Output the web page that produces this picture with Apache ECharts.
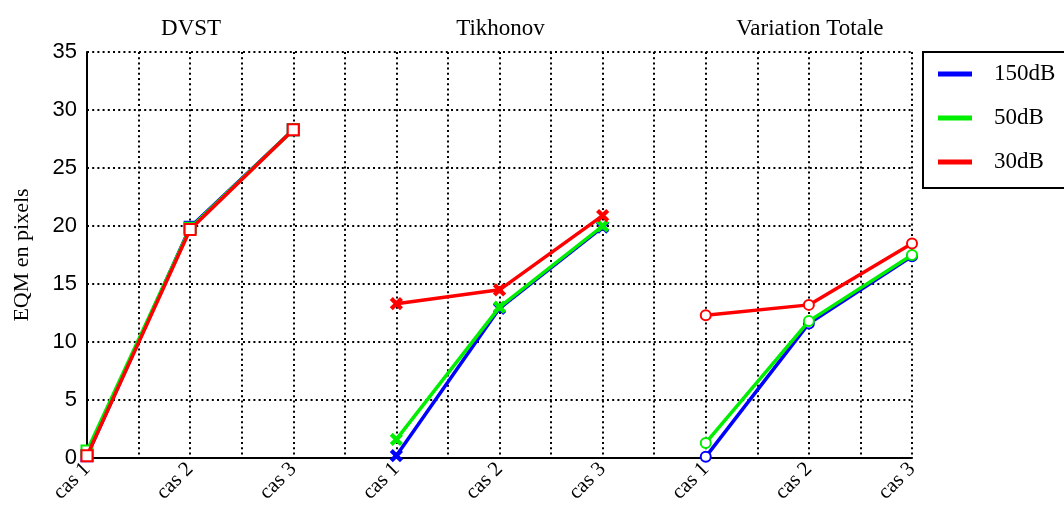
<!DOCTYPE html>
<html>
<head>
<meta charset="utf-8">
<script src="https://cdn.jsdelivr.net/npm/echarts@6/dist/echarts.min.js"></script>
<style>
    html, body { margin: 0; padding: 0; background: #fff; }
    #chart { width: 1064px; height: 509px; }
</style>
</head>
<body>
<div id="chart"></div>
<script>
// 横轴标签、方法名、噪声水平
var cases = ['cas 1', 'cas 2', 'cas 3'];
var methods = ['DVST', 'Tikhonov', 'Variation Totale'];
var noiseLevels = ['150dB', '50dB', '30dB'];
var noiseColors = ['#0000ff', '#00ee00', '#ff0000'];
var yTicks = [0, 5, 10, 15, 20, 25, 30, 35];

// EQM en pixels
var dvst150 = [0.2, 19.9, 28.3];
var dvst50 = [0.6, 19.8, 28.3];
var dvst30 = [0.2, 19.7, 28.3];
var tikh150 = [0.2, 12.9, 19.9];
var tikh50 = [1.6, 13.0, 20.0];
var tikh30 = [13.3, 14.5, 20.9];
var vt150 = [0.1, 11.6, 17.4];
var vt50 = [1.3, 11.8, 17.5];
var vt30 = [12.3, 13.2, 18.5];

var chart_page = {
    serif : '"Liberation Serif", "DejaVu Serif", serif',
    sans : '"Liberation Sans", Arial, sans-serif',
    crossPath : 'path://M0,1L1,0L5,4L9,0L10,1L6,5L10,9L9,10L5,6L1,10L0,9L4,5Z',
    /**
     * 初始化
     */
    init : function() {
        var panels = [
            { values : [ dvst150, dvst50, dvst30 ], symbol : 'emptyRect', size : 11 },
            { values : [ tikh150, tikh50, tikh30 ], symbol : this.crossPath, size : 9 },
            { values : [ vt150, vt50, vt30 ], symbol : 'emptyCircle', size : 10 }
        ];
        var series = [];
        for (var p = 0; p < panels.length; p++) {
            for (var s = 0; s < noiseLevels.length; s++) {
                var data = [];
                var vals = panels[p].values[s];
                for (var i = 0; i < vals.length; i++) {
                    data.push([ p * cases.length + i, vals[i] ]);
                }
                series.push({
                    name : noiseLevels[s],
                    type : 'line',
                    data : data,
                    symbol : panels[p].symbol,
                    symbolSize : panels[p].size,
                    showAllSymbol : true,
                    clip : false,
                    z : 2 + s,
                    lineStyle : { color : noiseColors[s], width : 3.5 },
                    itemStyle : { color : noiseColors[s], borderColor : noiseColors[s], borderWidth : 3 },
                    emphasis : { disabled : true }
                });
            }
        }

        var titles = [];
        var gridLeft = 87, gridRight = 912, nPos = methods.length * cases.length - 1;
        for (var m = 0; m < methods.length; m++) {
            titles.push({
                text : methods[m],
                left : gridLeft + (m * cases.length + 1) * (gridRight - gridLeft) / nPos - 4,
                top : 12,
                textAlign : 'center',
                textStyle : { fontFamily : this.serif, fontSize : 23, fontWeight : 'normal', color : '#000' }
            });
        }

        var serif = this.serif;
        var dotted = { color : '#000', width : 2, type : [ 2, 3.2 ] };
        var chart = echarts.init(document.getElementById('chart'), null, { renderer : 'canvas' });
        var option = {
            animation : false,
            backgroundColor : '#fff',
            title : titles,
            legend : {
                orient : 'vertical',
                left : 923,
                top : 52,
                data : noiseLevels,
                icon : 'rect',
                itemWidth : 32,
                itemHeight : 3,
                itemGap : 18,
                padding : [ 9, 60, 13, 15 ],
                borderColor : '#000',
                borderWidth : 2,
                backgroundColor : '#fff',
                selectedMode : false,
                textStyle : { fontFamily : serif, fontSize : 23, color : '#000', lineHeight : 26, padding : [ 0, 0, 0, 18 ] }
            },
            grid : { left : 87, right : 152, top : 52, bottom : 51, containLabel : false },
            xAxis : {
                type : 'value',
                min : 0,
                max : nPos,
                interval : 0.5,
                axisLine : { show : true, onZero : false, lineStyle : { color : '#000', width : 2 } },
                axisTick : { show : false },
                splitLine : { show : true, lineStyle : dotted },
                axisLabel : {
                    rotate : 45,
                    margin : 8,
                    fontFamily : serif,
                    fontSize : 21,
                    color : '#000',
                    showMinLabel : true,
                    showMaxLabel : true,
                    formatter : function(v) {
                        if (Math.abs(v - Math.round(v)) > 1e-6) {
                            return '';
                        }
                        return cases[Math.round(v) % cases.length];
                    }
                }
            },
            yAxis : {
                type : 'value',
                min : yTicks[0],
                max : yTicks[yTicks.length - 1],
                interval : 5,
                name : 'EQM en pixels',
                nameLocation : 'middle',
                nameGap : 54,
                nameTextStyle : { fontFamily : serif, fontSize : 22, color : '#000' },
                axisLine : { show : true, lineStyle : { color : '#000', width : 2 } },
                axisTick : { show : false },
                splitLine : { show : true, lineStyle : dotted },
                axisLabel : { fontFamily : this.sans, fontSize : 22, color : '#000', margin : 10 }
            },
            series : series
        };
        chart.setOption(option);
    }
};

chart_page.init();
</script>
</body>
</html>
